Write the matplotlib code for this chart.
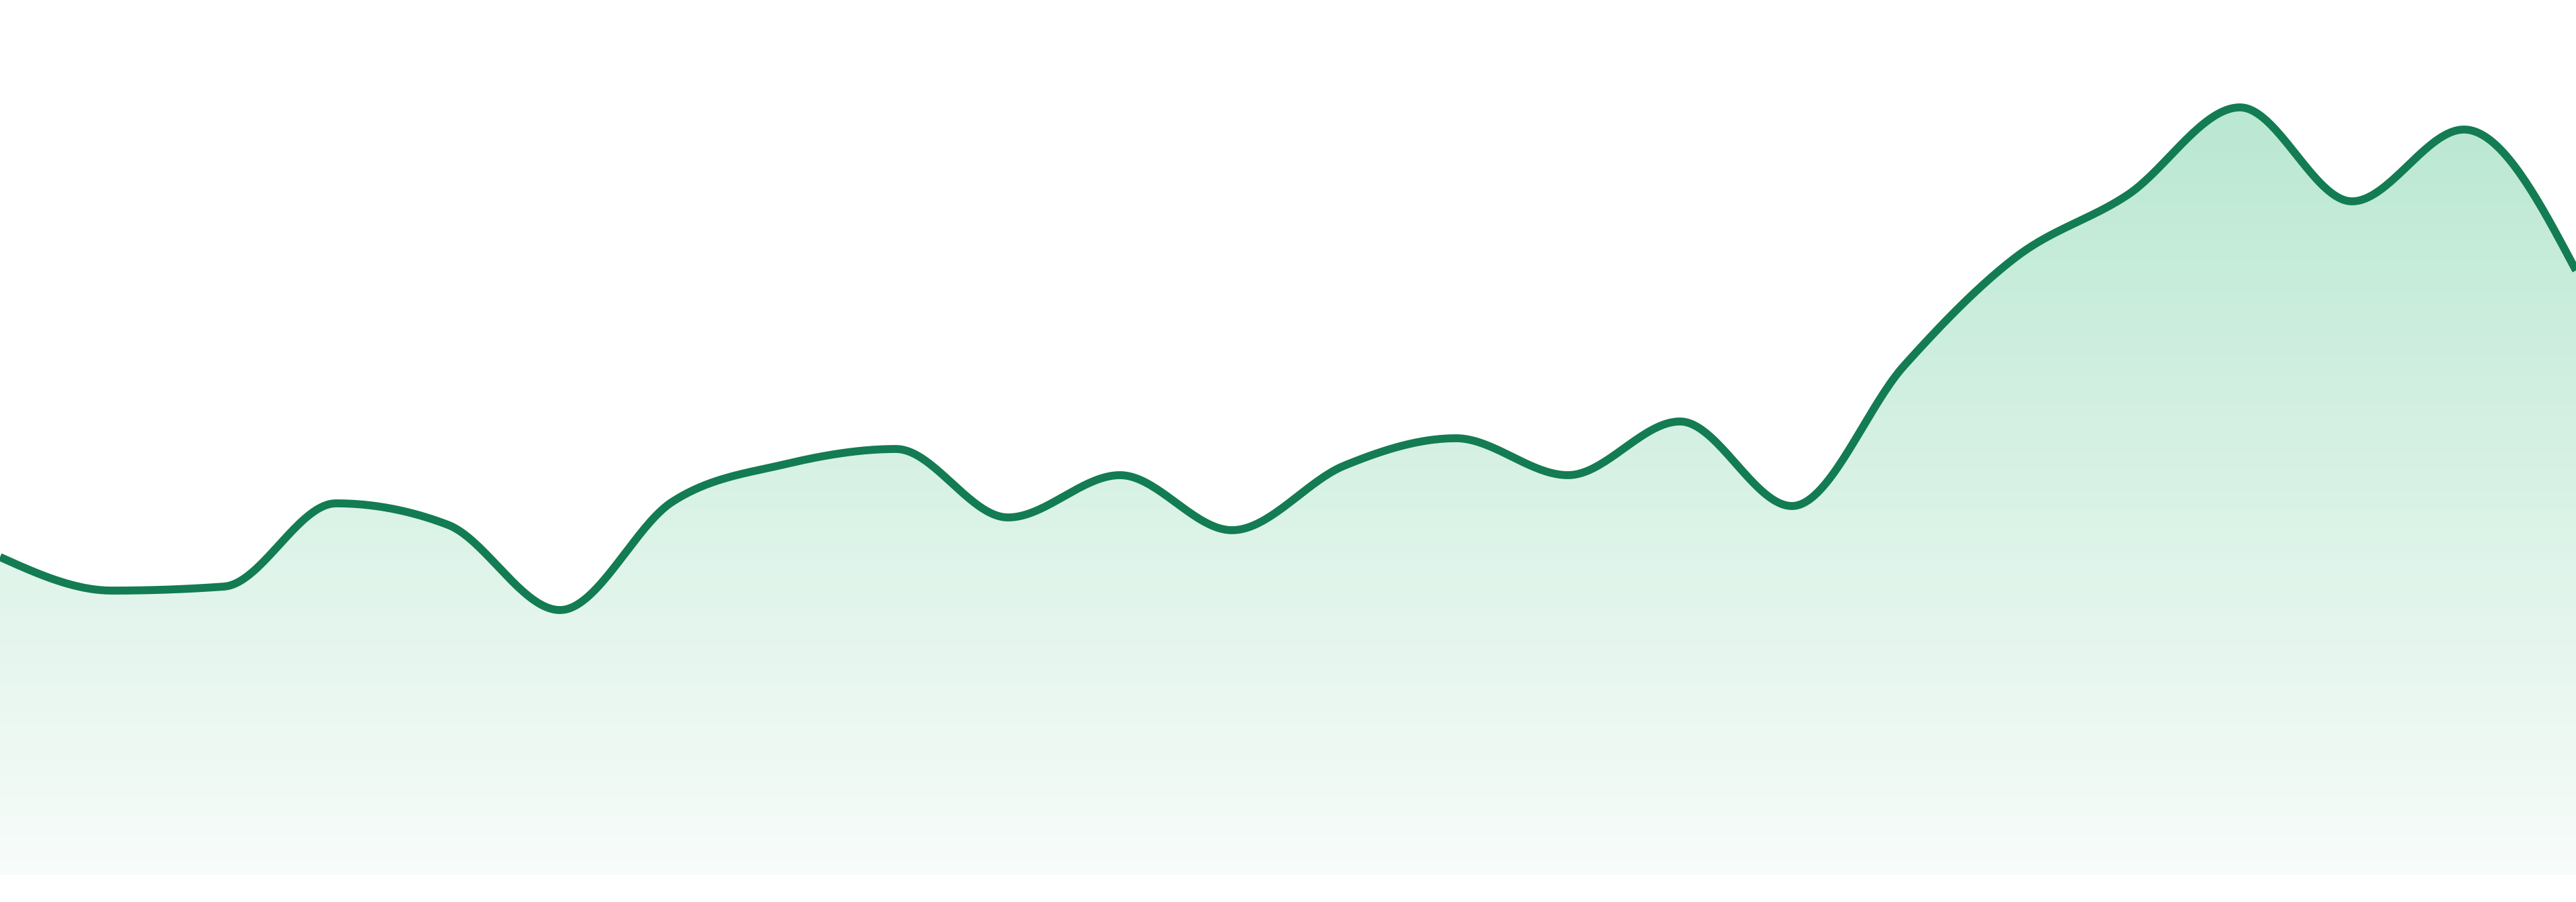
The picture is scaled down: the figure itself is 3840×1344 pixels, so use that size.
import matplotlib
matplotlib.use("Agg")
import matplotlib.pyplot as plt
import numpy as np
from matplotlib.colors import LinearSegmentedColormap

# values, one per evenly spaced step
steps = list(range(24))
values = [47.4, 42.4, 43.0, 55.4, 52.2, 39.5, 55.6, 61.2, 63.5, 53.3, 59.6, 51.4,
          61.0, 65.1, 59.6, 67.6, 55.0, 75.9, 92.1, 101.4, 114.4, 100.4, 111.1, 90.1]

line_color = "#137c52"
fill_top = "#bae8d2"
fill_bottom = "#f8fcfa"


def monotone_x(x, y, n=40):
  # same idea as d3.curveMonotoneX (Steffen slopes + hermite segments)
  x = np.asarray(x, float)
  y = np.asarray(y, float)
  h = np.diff(x)
  s = np.diff(y) / h
  t = np.zeros(len(x))
  for i in range(1, len(x) - 1):
    p = (s[i-1]*h[i] + s[i]*h[i-1]) / (h[i-1] + h[i])
    t[i] = (np.sign(s[i-1]) + np.sign(s[i])) * min(abs(s[i-1]), abs(s[i]), 0.5*abs(p))
  t[0] = (3*s[0] - t[1]) / 2
  t[-1] = (3*s[-1] - t[-2]) / 2
  xs, ys = [], []
  for i in range(len(x) - 1):
    u = np.linspace(0, 1, n, endpoint=False)
    h00 = 2*u**3 - 3*u**2 + 1
    h10 = u**3 - 2*u**2 + u
    h01 = -2*u**3 + 3*u**2
    h11 = u**3 - u**2
    xs.append(x[i] + u*h[i])
    ys.append(h00*y[i] + h10*h[i]*t[i] + h01*y[i+1] + h11*h[i]*t[i+1])
  xs.append([x[-1]])
  ys.append([y[-1]])
  return np.concatenate(xs), np.concatenate(ys)


xs, ys = monotone_x(steps, values)

fig = plt.figure(figsize=(38.4, 13.44), dpi=100)
ax = fig.add_axes([0, 40/1344, 1, 1304/1344])
ax.set_xlim(steps[0], steps[-1])
ax.set_ylim(0, 130.4)
ax.axis("off")

area = ax.fill_between(xs, ys, 0, color="none", lw=0)
cmap = LinearSegmentedColormap.from_list("g", [fill_bottom, fill_top])
grad = np.linspace(0, 1, 256).reshape(-1, 1)
img = ax.imshow(grad, cmap=cmap, aspect="auto", origin="lower",
                extent=[steps[0], steps[-1], 0, max(values)], zorder=1)
img.set_clip_path(area.get_paths()[0], transform=ax.transData)

ax.plot(xs, ys, color=line_color, lw=8.5, solid_capstyle="butt", zorder=2)

fig.savefig("out.png", dpi=100)
